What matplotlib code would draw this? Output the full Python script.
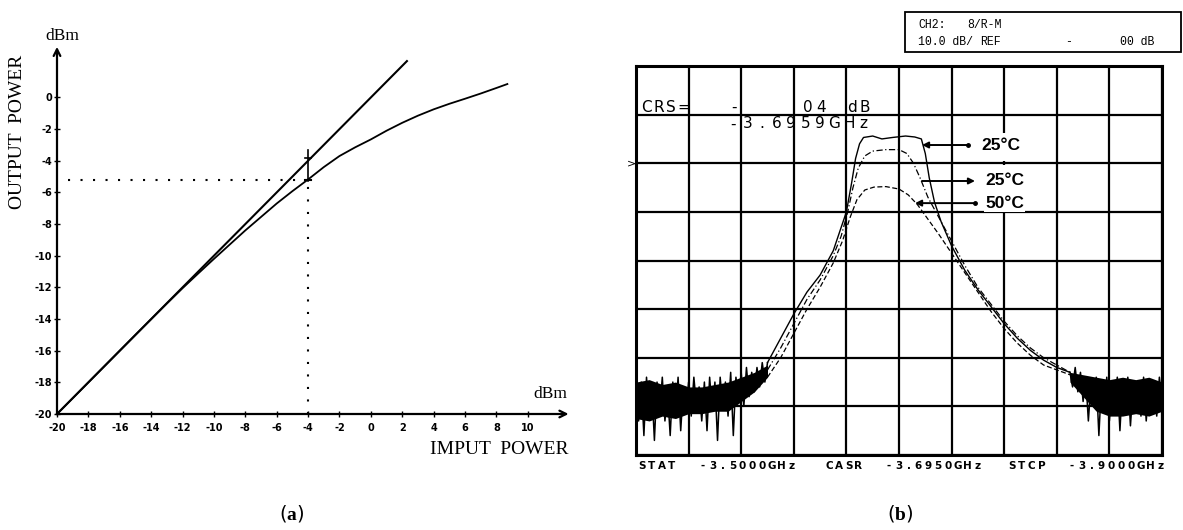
import numpy as np
import matplotlib
matplotlib.use("Agg")
import matplotlib.pyplot as plt
from matplotlib.patches import Rectangle

plt.rcParams['mathtext.fontset'] = 'custom'
plt.rcParams['mathtext.rm'] = 'Liberation Serif'
plt.rcParams['mathtext.bf'] = 'Liberation Serif:bold'

# ---------------- data: panel (a) ----------------
lin_in = [-20.0, 2.3]
lin_out = [-20.0, 2.3]
comp_in = [-20, -15, -13, -12, -11, -10, -9, -8, -7, -6, -5, -4, -3, -2, -1, 0,
           1, 2, 3, 4, 5, 6, 7, 8, 8.7]
comp_out = [-20, -15, -13.02, -12.05, -11.12, -10.2, -9.3, -8.4, -7.55, -6.7, -5.92,
            -5.18, -4.4, -3.7, -3.15, -2.65, -2.1, -1.6, -1.15, -0.75, -0.4, -0.08,
            0.25, 0.6, 0.85]
p1db_in = -4.0
p1db_out = -5.2
x_ticks_a = list(range(-20, 11, 2))
y_ticks_a = list(range(-20, 1, 2))

# ---------------- data: panel (b) ----------------
noise_left = [-46, -53, -45, -56, -44, -52, -46, -57, -45, -51, -44, -53, -47, -56, -45,
              -52, -44, -55, -46, -51, -45, -52, -44, -50, -46, -53, -45, -55, -44, -51,
              -45, -57, -44, -50, -45, -52, -43, -56, -44, -49, -43, -50, -42, -48, -43,
              -47, -42, -46, -41, -45, -41]
noise_right = [-43, -46, -42, -47, -43, -49, -44, -53, -45, -50, -44, -56, -45, -51, -44,
               -53, -46, -50, -44, -55, -45, -51, -44, -54, -46, -50, -45, -52, -44, -53,
               -46, -50, -45, -52, -44, -49]
# envelope of the dense noise band
env_l_f = [3.500, 3.510, 3.520, 3.530, 3.540, 3.550, 3.560, 3.570, 3.580, 3.590, 3.600]
env_l_hi = [-45, -44.5, -45.5, -45, -46, -46, -45.5, -45, -44, -43, -41.5]
env_l_lo = [-52.5, -53, -52, -52.5, -51.5, -51.5, -51, -51, -49, -47, -44]
env_r_f = [3.830, 3.840, 3.850, 3.860, 3.870, 3.880, 3.890, 3.900]
env_r_hi = [-43, -43.5, -44, -44.5, -44, -44.5, -44, -45]
env_r_lo = [-45, -48, -51, -52, -52, -51.5, -52, -51]

c1_f = [3.600, 3.610, 3.620, 3.630, 3.640, 3.650, 3.655, 3.660, 3.664, 3.667, 3.670,
        3.673, 3.680, 3.687, 3.695, 3.705, 3.712, 3.717, 3.720, 3.723, 3.727, 3.732,
        3.740, 3.750, 3.760, 3.770, 3.780, 3.790, 3.800, 3.810, 3.820, 3.830]
c1_db = [-41, -36, -31, -26.5, -23, -18, -14, -10, -4, 1, 4, 5.3, 5.6, 5.0, 5.3, 5.6,
         5.4, 5.0, 2, -3, -8, -12, -17, -22, -26, -29.5, -33, -36, -38.5, -40.5, -42, -43]

c2_f = [3.600, 3.610, 3.620, 3.630, 3.640, 3.650, 3.656, 3.661, 3.665, 3.669, 3.674,
        3.680, 3.690, 3.700, 3.706, 3.711, 3.716, 3.722, 3.730, 3.740, 3.750, 3.760,
        3.770, 3.780, 3.790, 3.800, 3.810, 3.820, 3.830]
c2_db = [-42.5, -38, -33, -28, -24, -19, -15, -10, -5, -1, 1.5, 2.5, 2.8, 2.8, 2, 0, -3,
         -7, -11, -16, -21, -25.5, -29, -32.5, -35.5, -38, -40, -41.5, -43]

c3_f = [3.600, 3.610, 3.620, 3.630, 3.640, 3.650, 3.657, 3.663, 3.668, 3.674, 3.681,
        3.690, 3.700, 3.707, 3.714, 3.722, 3.730, 3.740, 3.750, 3.760, 3.770, 3.780,
        3.790, 3.800, 3.810, 3.820, 3.830]
c3_db = [-44, -40, -35, -30, -25.5, -20.5, -16, -11, -7.5, -5.5, -4.9, -4.8, -5.3, -6.5,
         -8.5, -11.5, -14.5, -18.5, -22.5, -26.5, -30.5, -34, -37, -39.5, -41.5, -42.5,
         -43.5]

f_start, f_stop = 3.5, 3.9
db_bottom, db_top = -60, 20

W, H = 1183, 530
fig = plt.figure(figsize=(W / 100, H / 100), dpi=100)


def ftext(x, y, s, **kw):
    return fig.text(x / W, 1 - y / H, s, **kw)


def spaced(x0, y, s, pitch, **kw):
    for i, ch in enumerate(s):
        ftext(x0 + i * pitch, y, ch, ha='center', va='center', **kw)


# ================= panel (a) =================
axL = fig.add_axes([57 / W, 1 - 414 / H, 510 / W, 364 / H])
axL.set_xlim(-20, 12.5)
axL.set_ylim(-20, 3)
for s in axL.spines.values():
    s.set_visible(False)
axL.annotate('', xy=(-20, 3.2), xytext=(-20, -20),
             arrowprops=dict(arrowstyle='->', lw=1.6, color='k', shrinkA=0, shrinkB=0,
                             mutation_scale=12), annotation_clip=False)
axL.annotate('', xy=(12.6, -20), xytext=(-20, -20),
             arrowprops=dict(arrowstyle='->', lw=1.6, color='k', shrinkA=0, shrinkB=0,
                             mutation_scale=12), annotation_clip=False)
axL.set_xticks(x_ticks_a)
axL.set_yticks(y_ticks_a)
axL.set_xticklabels([str(v) for v in x_ticks_a])
axL.set_yticklabels([str(v) for v in y_ticks_a])
axL.tick_params(direction='inout', length=5, width=1, labelsize=7)
axL.tick_params(axis='x', pad=4)
axL.tick_params(axis='y', pad=1)
for lab in axL.get_xticklabels() + axL.get_yticklabels():
    lab.set_fontweight('bold')
    lab.set_family('DejaVu Sans')

axL.plot(lin_in, lin_out, color='k', lw=1.5, clip_on=False)
axL.plot(comp_in, comp_out, color='k', lw=1.3, clip_on=False)
axL.plot([-19.3, p1db_in], [p1db_out, p1db_out], color='k', lw=1.5,
         linestyle=(0, (1, 5)))
axL.plot([p1db_in, p1db_in], [-20, p1db_out], color='k', lw=1.5,
         linestyle=(0, (1, 5)))
axL.plot([p1db_in, p1db_in], [p1db_out - 0.1, -3.35], color='k', lw=1.2)
axL.plot([p1db_in - 0.2, p1db_in + 0.2], [-3.85, -3.85], color='k', lw=1.2)
axL.plot([p1db_in - 0.2, p1db_in + 0.2], [p1db_out, p1db_out], color='k', lw=1.5)

serif = 'Liberation Serif'
ftext(62, 36, 'dBm', ha='center', va='center', fontsize=12.5, family=serif)
ftext(18, 132, 'OUTPUT  POWER', ha='center', va='center', rotation=90,
      fontsize=14, family=serif)
ftext(567, 394, 'dBm', ha='right', va='center', fontsize=12.5, family=serif)
ftext(568, 450, 'IMPUT  POWER', ha='right', va='center', fontsize=14, family=serif)
ftext(292, 513, r'($\mathbf{a}$)', ha='center', va='center', fontsize=14)

# ================= panel (b) =================
axR = fig.add_axes([636 / W, 1 - 455 / H, 526 / W, 389 / H])
axR.set_xlim(f_start, f_stop)
axR.set_ylim(db_bottom, db_top)
axR.set_xticks(np.linspace(f_start, f_stop, 11))
axR.set_yticks(np.linspace(db_bottom, db_top, 9))
axR.tick_params(length=0, labelbottom=False, labelleft=False)
axR.grid(True, color='k', lw=1.6)
for s in axR.spines.values():
    s.set_linewidth(2.2)

axR.fill_between(env_l_f, env_l_lo, env_l_hi, color='k', lw=0, zorder=4)
axR.fill_between(env_r_f, env_r_lo, env_r_hi, color='k', lw=0, zorder=4)
nl_f = np.linspace(3.500, 3.600, len(noise_left))
nr_f = np.linspace(3.830, 3.900, len(noise_right))
axR.plot(nl_f, noise_left, color='k', lw=1.1, zorder=4)
axR.plot(nr_f, noise_right, color='k', lw=1.1, zorder=4)
axR.plot(c1_f, c1_db, color='k', lw=1.0, zorder=4)
axR.plot(c2_f, c2_db, color='k', lw=0.9, linestyle=(0, (5, 2, 1, 2)), zorder=4)
axR.plot(c3_f, c3_db, color='k', lw=0.9, linestyle=(0, (4, 2)), zorder=4)

# gridline hidden behind the label block
axR.plot([3.78, 3.78], [6.2, 0.45], color='white', lw=4, zorder=3, solid_capstyle='butt')
axR.plot([3.78, 3.78], [-0.45, -9.4], color='white', lw=4, zorder=3, solid_capstyle='butt')

arrow_kw = dict(arrowstyle='-|>', lw=1.4, color='k', shrinkA=0, shrinkB=0,
                mutation_scale=9)
axR.annotate('', xy=(3.7175, 3.75), xytext=(3.7525, 3.75), arrowprops=arrow_kw, zorder=5)
axR.plot([3.7525], [3.75], 'o', color='k', ms=2.5, zorder=5)
axR.annotate('', xy=(3.7578, -3.65), xytext=(3.7175, -3.65), arrowprops=arrow_kw, zorder=5)
axR.annotate('', xy=(3.7122, -8.2), xytext=(3.7578, -8.2), arrowprops=arrow_kw, zorder=5)
axR.plot([3.7578], [-8.2], 'o', color='k', ms=2.5, zorder=5)

lab_kw = dict(ha='left', va='center', fontsize=12.5, family='Liberation Sans',
              fontweight='bold', zorder=6,
              bbox=dict(facecolor='white', edgecolor='none', pad=1))
axR.text(3.763, 3.75, '25°C', **lab_kw)
axR.text(3.7654, -3.65, '25°C', **lab_kw)
axR.text(3.7654, -8.2, '50°C', **lab_kw)

# marker text
mono_kw = dict(fontsize=11, family='DejaVu Sans')
spaced(646, 107.5, 'CRS=', 12.5, **mono_kw)
ftext(734, 107, '-', ha='center', va='center', **mono_kw)
spaced(808, 107.5, '04', 13, **mono_kw)
spaced(852, 107.5, 'dB', 13, **mono_kw)
spaced(733, 124, '-3.6959GHz', 14.5, **mono_kw)
ftext(631, 163, '>', ha='center', va='center', fontsize=8, family='DejaVu Sans')

# bottom labels
bot_kw = dict(fontsize=7.5, family='DejaVu Sans', fontweight='bold')
spaced(642, 466, 'STAT', 9.8, **bot_kw)
spaced(703, 466, '-3.5000GHz', 9.8, **bot_kw)
spaced(829, 466, 'CASR', 9.8, **bot_kw)
spaced(889, 466, '-3.6950GHz', 9.8, **bot_kw)
spaced(1012, 466, 'STCP', 9.8, **bot_kw)
spaced(1072, 466, '-3.9000GHz', 9.8, **bot_kw)

# header box
fig.patches.append(Rectangle((905 / W, 1 - 52 / H), 276 / W, 40 / H,
                             transform=fig.transFigure, fill=False, lw=1.3, ec='k'))
hdr_kw = dict(ha='left', va='center', fontsize=8.3, family='Liberation Mono')
ftext(918, 25, 'CH2:', **hdr_kw)
ftext(967, 25, '8/R-M', **hdr_kw)
ftext(918, 42, '10.0 dB/', **hdr_kw)
ftext(980, 42, 'REF', **hdr_kw)
ftext(1065, 42, '-', **hdr_kw)
ftext(1120, 42, '00 dB', **hdr_kw)

ftext(900, 513, r'($\mathbf{b}$)', ha='center', va='center', fontsize=14)

fig.savefig('out.png', dpi=100, facecolor='white')
